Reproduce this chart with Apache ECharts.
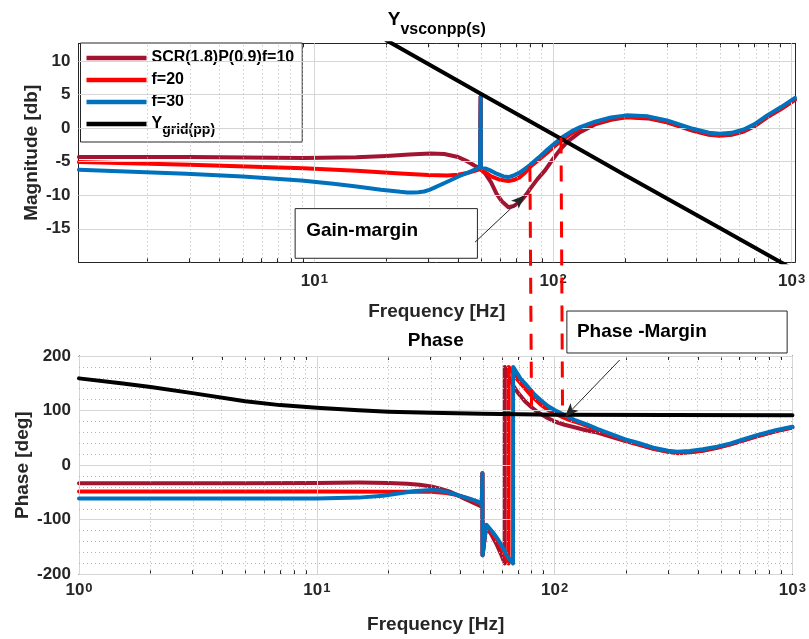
<!DOCTYPE html>
<html>
<head>
<meta charset="utf-8">
<script src="https://cdn.jsdelivr.net/npm/echarts@6/dist/echarts.min.js"></script>
<style>
  html, body { margin: 0; padding: 0; background: #fff; }
  #chart { width: 809px; height: 639px; }
</style>
</head>
<body>
<div id="chart"></div>
<script>
// ---- Bode data: [frequency in Hz, value] ----
// Magnitude [dB]
const magF10 = [[1.03,-4.3],[3,-4.3],[9,-4.45],[15,-4.35],[20,-4.15],[25,-3.95],[30.6,-3.8],[35,-3.85],[40,-4.3],[44,-5.0],[47,-5.6],[49.4,-6.0],[49.75,4.7],[49.85,-6.1],[52,-6.8],[55,-8.1],[58,-9.8],[61,-10.9],[65,-11.8],[68.5,-11.6],[72.7,-11.0],[77.6,-9.8],[80,-9.1],[86,-7.6],[92.6,-6.3],[100,-4.6],[107,-3.2],[115,-2.0],[129.8,-0.6],[150,0.55],[175,1.25],[203,1.6],[250,1.45],[300,0.85],[386,-0.4],[450,-1.0],[500,-1.15],[560,-1.0],[630,-0.5],[700,0.3],[790,1.6],[900,2.8],[1033,4.2]];
const magF20 = [[1.03,-5.05],[3,-5.45],[9,-6.0],[15,-6.35],[22.9,-6.75],[30,-7.0],[36,-7.05],[40,-6.95],[43.6,-6.7],[47,-6.35],[49.4,-6.1],[49.75,4.7],[49.85,-6.2],[52,-6.6],[55,-7.2],[60,-7.7],[65,-7.9],[69,-7.7],[72.7,-7.3],[76.5,-6.6],[80,-5.8],[87,-4.75],[94,-3.75],[100,-2.9],[108.9,-1.8],[120,-0.75],[130,-0.1],[150,0.75],[175,1.4],[203,1.7],[250,1.55],[300,0.95],[386,-0.3],[450,-0.9],[500,-1.05],[560,-0.9],[630,-0.4],[700,0.4],[790,1.7],[900,2.9],[1033,4.3]];
const magF30 = [[1.03,-6.2],[2.9,-6.8],[5,-7.2],[8.8,-7.8],[12,-8.3],[15,-8.7],[19,-9.2],[22.9,-9.5],[24.5,-9.58],[26,-9.6],[27.3,-9.57],[28.8,-9.45],[30.3,-9.2],[31.5,-8.95],[34,-8.4],[37,-7.8],[40.8,-7.1],[43.6,-6.7],[47,-6.2],[49.4,-5.85],[49.75,4.7],[49.85,-5.9],[52,-6.0],[54.5,-6.3],[58,-6.8],[62,-7.2],[65,-7.3],[68,-7.1],[72.7,-6.6],[76,-6.1],[80,-5.5],[87,-4.4],[94,-3.3],[100,-2.5],[108.9,-1.4],[120,-0.45],[130,0.15],[150,0.95],[175,1.6],[203,1.9],[250,1.75],[300,1.15],[386,-0.1],[450,-0.7],[500,-0.85],[560,-0.7],[630,-0.2],[700,0.6],[790,1.9],[900,3.1],[1033,4.5]];
const magGrid = [[20,13.1],[50,5.1],[108,-1.6],[200,-7.0],[500,-14.9],[1000,-20.9]];

// Phase [deg]
const phF10 = [[1,-33],[5,-33],[10,-32.5],[15,-32],[20,-32.5],[24,-34],[27,-36],[30.3,-39],[33,-43],[36,-48],[39,-55],[42,-62],[45,-68],[47.7,-73],[49.4,-76],[49.7,-15],[49.78,-165],[51.5,-113],[54,-126],[57,-145],[59.5,-163],[61.65,-180],[61.7,180],[64,162],[67,146],[70,133],[75,117],[80,106],[85,97],[92,88],[100,80],[110,74],[120,70],[138,63],[150,60],[173,52],[202,43],[223,38],[260,30],[300,24.5],[328,22],[370,23.5],[420,26.5],[483,32],[550,38],[620,45],[710,53],[850,62],[1000,69]];
const phF20 = [[1,-48.5],[10,-48.5],[22,-48.6],[30.3,-48.8],[35,-51],[38,-54],[42,-59],[45,-64],[47.7,-69],[49.4,-73],[49.7,-15],[49.78,-165],[51.5,-111],[55,-127],[58,-142],[61,-160],[64.05,-180],[64.1,180],[67,168],[70,156],[75,141],[80,127],[87,112],[94,101],[100,95],[107,89],[115,83],[129,76],[150,65],[173,55],[202,44],[223,39],[260,30.5],[300,25],[328,22.5],[370,24],[420,27],[483,32.5],[550,38.5],[620,45.5],[710,53.5],[850,62.5],[1000,69.5]];
const phF30 = [[1,-61],[5,-61],[10,-61],[15,-59.5],[19,-56],[22,-52],[26,-47.5],[30.3,-45.5],[33,-46.5],[37,-51.5],[42,-59],[45,-63],[47.7,-67],[49.4,-72],[49.7,-15],[49.78,-165],[51.6,-109],[55,-123],[58,-137],[61,-153],[63,-166],[66.85,-180],[66.9,180],[72,158],[75,150],[82.5,129],[88,118],[94,108],[100,101],[110,92],[121,83],[138,74],[150,67],[173,57],[202,46],[223,41],[260,32],[300,26.5],[328,24.5],[370,26],[420,29],[483,34],[550,40],[620,47],[710,55],[850,64],[1000,70.5]];
const phGrid = [[1,159],[1.5,150],[2,143],[3,132],[5,117],[7,110],[10,105],[15,100.5],[20,98],[30,96],[50,94],[100,92.5],[300,91.8],[1000,91.3]];

// Series names and colours
const seriesNames = ['SCR(1.8)P(0.9)f=10', 'f=20', 'f=30', 'Ygrid'];
const seriesColors = ['#A2142F', '#FF0000', '#0072BD', '#000000'];

// Axis ranges and tick values
const magXRange = [1.026, 1033];
const magYRange = [-20, 12.64];
const phXRange = [1, 1000];
const phYRange = [-200, 200];
const magYTicks = [-15, -10, -5, 0, 5, 10];
const phYTicks = [-200, -100, 0, 100, 200];
const phYMinorStep = 20;
const decadeExponents = [0, 1, 2, 3];

// Margin markers: frequency, magnitude end, phase end
const gainMarginLine = { f: 80, mag: -5.6, phase: 92 };
const phaseMarginLine = { f: 108, mag: -1.4, phase: 90 };

const FONT = '"Liberation Sans", Arial, Helvetica, sans-serif';
const AX = '#262626';
const lg = Math.log10;

function logTicks(range) {
  const major = [], minor = [];
  decadeExponents.forEach(e => {
    for (let m = 1; m <= 9; m++) {
      const v = m * Math.pow(10, e);
      if (v >= range[0] * 0.9999 && v <= range[1] * 1.0001) (m === 1 ? major : minor).push(lg(v));
    }
  });
  return { major, minor, all: major.concat(minor) };
}
const magX = logTicks(magXRange);
const phX = logTicks(phXRange);
const phYMinor = [];
for (let v = phYRange[0] + phYMinorStep; v < phYRange[1]; v += phYMinorStep) {
  if (v % 100 !== 0) phYMinor.push(v);
}

const labelRich = {
  b: { fontFamily: FONT, fontSize: 17, fontWeight: 'bold', color: AX, lineHeight: 17, verticalAlign: 'bottom' },
  s: { fontFamily: FONT, fontSize: 13, fontWeight: 'bold', color: AX, lineHeight: 13, verticalAlign: 'top', padding: [0, 0, 8, 1] }
};
const nameStyle = { fontFamily: FONT, fontSize: 19, fontWeight: 'bold', color: AX };

function xAxisPair(grid, range, ticks, margin, gap) {
  const base = {
    gridIndex: grid, type: 'value', min: lg(range[0]), max: lg(range[1]),
    axisLine: { show: true, onZero: false, lineStyle: { color: AX, width: 1 } },
    axisTick: { show: true, inside: true, length: 4, customValues: ticks.all, lineStyle: { color: AX, width: 1 } },
    splitLine: { show: false }, minorTick: { show: false }
  };
  return [
    Object.assign({}, base, {
      position: 'bottom',
      name: 'Frequency [Hz]', nameLocation: 'middle', nameGap: gap, nameMoveOverlap: false, nameTextStyle: nameStyle,
      axisLabel: {
        show: true, margin, customValues: ticks.major,
        formatter: v => '{b|10}{s|' + Math.round(v) + '}', rich: labelRich
      }
    }),
    Object.assign({}, base, { position: 'top', axisLabel: { show: false } })
  ];
}
function yAxisPair(grid, range, ticks, name, gap) {
  const base = {
    gridIndex: grid, type: 'value', min: range[0], max: range[1],
    axisLine: { show: true, onZero: false, lineStyle: { color: AX, width: 1 } },
    axisTick: { show: true, inside: true, length: 5, customValues: ticks, lineStyle: { color: AX, width: 1 } },
    splitLine: { show: false }
  };
  return [
    Object.assign({}, base, {
      position: 'left', name, nameLocation: 'middle', nameGap: gap, nameMoveOverlap: false, nameTextStyle: nameStyle,
      axisLabel: { show: true, margin: 8, customValues: ticks, fontFamily: FONT, fontSize: 17, fontWeight: 'bold', color: AX }
    }),
    Object.assign({}, base, { position: 'right', axisLabel: { show: false } })
  ];
}

function gridLines(xi, yi, xMajor, xMinor, yMajor, yMinor) {
  const solid = { color: '#d6d6d6', width: 1, type: 'solid' };
  const dots = { color: '#b4b4b4', width: 1, type: [1, 3] };
  const data = []
    .concat(xMajor.map(v => ({ xAxis: v, lineStyle: solid })))
    .concat(xMinor.map(v => ({ xAxis: v, lineStyle: dots })))
    .concat(yMajor.map(v => ({ yAxis: v, lineStyle: solid })))
    .concat(yMinor.map(v => ({ yAxis: v, lineStyle: dots })));
  return {
    type: 'line', name: 'gridlines' + xi, xAxisIndex: xi, yAxisIndex: yi, data: [], z: 1,
    silent: true, animation: false,
    markLine: { silent: true, animation: false, symbol: ['none', 'none'], label: { show: false }, data }
  };
}

function curve(idx, pts, xi, yi) {
  return {
    type: 'line', name: seriesNames[idx], xAxisIndex: xi, yAxisIndex: yi,
    data: pts.map(p => [lg(p[0]), p[1]]),
    showSymbol: false, symbol: 'none', clip: true, silent: true, animation: false, z: 3 + idx,
    lineStyle: { color: seriesColors[idx], width: 4, join: 'round', cap: 'round' },
    itemStyle: { color: seriesColors[idx] }
  };
}

const xAxes = xAxisPair(0, magXRange, magX, 11, 40).concat(xAxisPair(1, phXRange, phX, 8, 41));
const yAxes = yAxisPair(0, magYRange, magYTicks, 'Magnitude [db]', 37).concat(yAxisPair(1, phYRange, phYTicks, 'Phase [deg]', 47));

const option = {
  animation: false,
  backgroundColor: '#ffffff',
  textStyle: { fontFamily: FONT },
  grid: [
    { left: 78.5, top: 43.3, width: 716.5, height: 219 },
    { left: 79, top: 356, width: 716.7, height: 218.3 }
  ],
  xAxis: xAxes,
  yAxis: yAxes,
  legend: {
    data: seriesNames,
    orient: 'vertical', left: 80.5, top: 43,
    padding: [7, 8, 5, 6], itemGap: 6, itemWidth: 60, itemHeight: 4.5, icon: 'rect',
    backgroundColor: '#ffffff', borderColor: AX, borderWidth: 1, borderRadius: 0,
    selectedMode: false,
    itemStyle: { borderWidth: 0 },
    textStyle: {
      fontFamily: FONT, fontSize: 16, fontWeight: 'bold', color: '#000',
      rich: {
        y: { fontFamily: FONT, fontSize: 16, fontWeight: 'bold', color: '#000', lineHeight: 16, verticalAlign: 'top' },
        s: { fontFamily: FONT, fontSize: 14, fontWeight: 'bold', color: '#000', lineHeight: 14, verticalAlign: 'top', padding: [7, 0, 0, 0] }
      }
    },
    formatter: n => n === 'Ygrid' ? '{y|Y}{s|grid(pp)}' : n
  },
  series: [
    gridLines(0, 0, magX.major, magX.minor, magYTicks, []),
    gridLines(2, 2, phX.major, phX.minor, phYTicks, phYMinor),
    curve(0, magF10, 0, 0),
    curve(1, magF20, 0, 0),
    curve(2, magF30, 0, 0),
    curve(3, magGrid, 0, 0),
    curve(0, phF10, 2, 2),
    curve(1, phF20, 2, 2),
    curve(2, phF30, 2, 2),
    curve(3, phGrid, 2, 2)
  ]
};

const chart = echarts.init(document.getElementById('chart'), null, { renderer: 'canvas' });
chart.setOption(option);

// ---- annotations anchored in data space ----
function px(plot, f, v) {
  const i = plot === 0 ? 0 : 2;
  return chart.convertToPixel({ xAxisIndex: i, yAxisIndex: i }, [lg(f), v]);
}
function arrow(tail, tip) {
  const dx = tip[0] - tail[0], dy = tip[1] - tail[1];
  const L = Math.hypot(dx, dy), ux = dx / L, uy = dy / L, nx = -uy, ny = ux;
  const len = 14, hw = 5.5, notch = 3.5;
  const back = [tip[0] - ux * len, tip[1] - uy * len];
  const mid = [tip[0] - ux * (len - notch), tip[1] - uy * (len - notch)];
  return [
    { type: 'line', z: 120, shape: { x1: tail[0], y1: tail[1], x2: mid[0], y2: mid[1] }, style: { stroke: AX, lineWidth: 1 } },
    { type: 'polygon', z: 121, shape: { points: [tip, [back[0] + nx * hw, back[1] + ny * hw], mid, [back[0] - nx * hw, back[1] - ny * hw]] }, style: { fill: AX } }
  ];
}
function marginLine(m) {
  const a = px(0, m.f, m.mag), b = px(1, m.f, m.phase);
  return { type: 'line', z: 110, shape: { x1: a[0], y1: a[1], x2: b[0], y2: b[1] }, style: { stroke: '#FF0000', lineWidth: 3, lineDash: [16, 12] } };
}
function textBox(p0, p1, text, dx, dy) {
  return [
    { type: 'rect', z: 115, shape: { x: p0[0], y: p0[1], width: p1[0] - p0[0], height: p1[1] - p0[1] }, style: { fill: '#ffffff', stroke: AX, lineWidth: 1 } },
    { type: 'text', z: 116, x: p0[0] + dx, y: p0[1] + dy, style: { text, fill: '#000', font: 'bold 19px ' + FONT, textAlign: 'left', textVerticalAlign: 'middle' } }
  ];
}

const magLeft = px(0, magXRange[0], 0)[0], magRight = px(0, magXRange[1], 0)[0];
const phLeft = px(1, phXRange[0], 0)[0], phRight = px(1, phXRange[1], 0)[0];

const graphics = [
  {
    type: 'text', z: 130, x: (magLeft + magRight) / 2, y: 10,
    style: {
      text: '{a|Y}{b|vsconpp(s)}', textAlign: 'center', textVerticalAlign: 'top',
      rich: {
        a: { fontFamily: FONT, fontSize: 19, fontWeight: 'bold', fill: '#000', lineHeight: 19, verticalAlign: 'top' },
        b: { fontFamily: FONT, fontSize: 16, fontWeight: 'bold', fill: '#000', lineHeight: 16, verticalAlign: 'top', padding: [12, 0, 0, 0] }
      }
    }
  },
  {
    type: 'text', z: 130, x: (phLeft + phRight) / 2, y: 340.7,
    style: { text: 'Phase', fill: '#000', font: 'bold 19px ' + FONT, textAlign: 'center', textVerticalAlign: 'middle' }
  },
  marginLine(gainMarginLine),
  marginLine(phaseMarginLine)
]
  .concat(textBox(px(0, 8.3, -12.0), px(0, 48.2, -19.4), 'Gain-margin', 11, 21.7))
  .concat(arrow(px(0, 47.1, -17.0), px(0, 76.3, -10.0)))
  .concat(textBox(px(1, 112.6, 282.4), px(1, 950, 205.5), 'Phase -Margin', 10, 20.7))
  .concat(arrow(px(1, 187.8, 192.7), px(1, 110.4, 88.2)));

chart.setOption({ graphic: { elements: graphics } });
</script>
</body>
</html>
